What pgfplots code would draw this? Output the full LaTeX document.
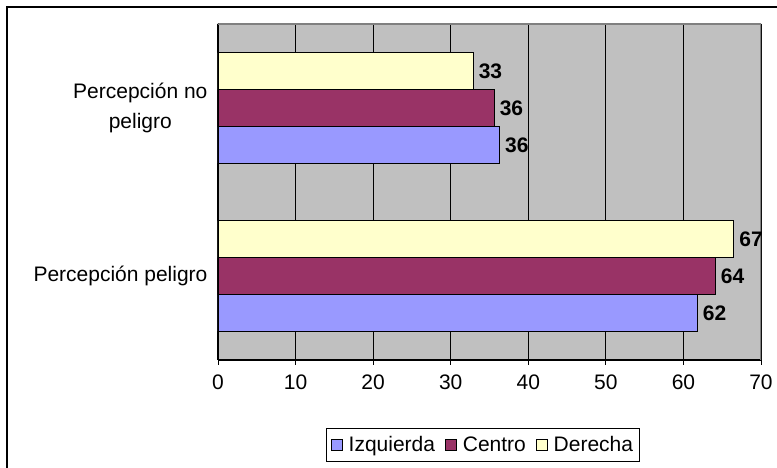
\documentclass[border=0pt]{standalone}
\usepackage{fontspec}
\setmainfont{Liberation Sans}
\usepackage{pgfplots}
\pgfplotsset{compat=1.18}

\definecolor{izq}{HTML}{9999FF}
\definecolor{centro}{HTML}{993366}
\definecolor{derecha}{HTML}{FFFFCC}
\definecolor{plotbg}{HTML}{C0C0C0}

\begin{document}
\begin{tikzpicture}[x=1pt,y=1pt]
\useasboundingbox (0,0) rectangle (777,468);
\fill[white] (0,0) rectangle (777,468);
\draw[line width=2pt] (7,0) -- (7,461) -- (777,461);
\begin{axis}[
    at={(218pt,108pt)}, anchor=south west,
    scale only axis,
    width=543pt, height=336pt,
    xbar,
    xmin=0, xmax=70,
    ymin=-0.5, ymax=1.5,
    bar width=0.22,
    axis background/.style={fill=plotbg},
    axis lines*=left,
    axis line style={-, line width=1.2pt, black},
    xtick={0,10,...,70},
    xmajorgrids,
    grid style={black, line width=0.8pt},
    tick align=outside,
    major tick length=5pt,
    tick style={black, line width=0.8pt},
    ytick={0,1},
    yticklabels={Percepción peligro, {Percepción no\\peligro}},
    ytick style={draw=none},
    yticklabel style={align=center, xshift=-2pt},
    xticklabel style={yshift=-6pt},
    tick label style={font=\fontsize{21}{30}\selectfont},
    /pgf/number format/assume math mode=true,
    nodes near coords,
    point meta=explicit symbolic,
    nodes near coords style={font=\bfseries\fontsize{21}{24}\selectfont, anchor=west, inner xsep=5pt},
    every axis plot/.append style={draw=black, line width=1.2pt},
    legend columns=3,
    legend image code/.code={\draw[#1, line width=0.8pt] (0pt,-5.5pt) rectangle (11pt,5.5pt);},
    legend style={at={(rel axis cs:0.488,-0.253)}, anchor=center,
        draw=black, line width=0.8pt,
        font=\fontsize{21}{24}\selectfont,
        inner xsep=4pt, inner ysep=6pt,
        /tikz/every odd column/.append style={column sep=4pt},
        /tikz/every even column/.append style={column sep=8pt}},
]
\addplot[fill=izq, bar shift=-0.22] coordinates {(61.8,0) [62] (36.3,1) [36]};
\addplot[fill=centro, bar shift=0] coordinates {(64.1,0) [64] (35.6,1) [36]};
\addplot[fill=derecha, bar shift=0.22] coordinates {(66.5,0) [67] (32.9,1) [33]};
\legend{Izquierda, Centro, Derecha}
\draw[gray, line width=1.2pt] (rel axis cs:0,1) -- (rel axis cs:1,1) -- (rel axis cs:1,0);
\draw[black, line width=0.8pt] (rel axis cs:0,0) -- ++(-5pt,0);
\draw[black, line width=0.8pt] (rel axis cs:0,0.5) -- ++(-5pt,0);
\draw[black, line width=0.8pt] (rel axis cs:0,1) -- ++(-5pt,0);
\end{axis}
\end{tikzpicture}
\end{document}
